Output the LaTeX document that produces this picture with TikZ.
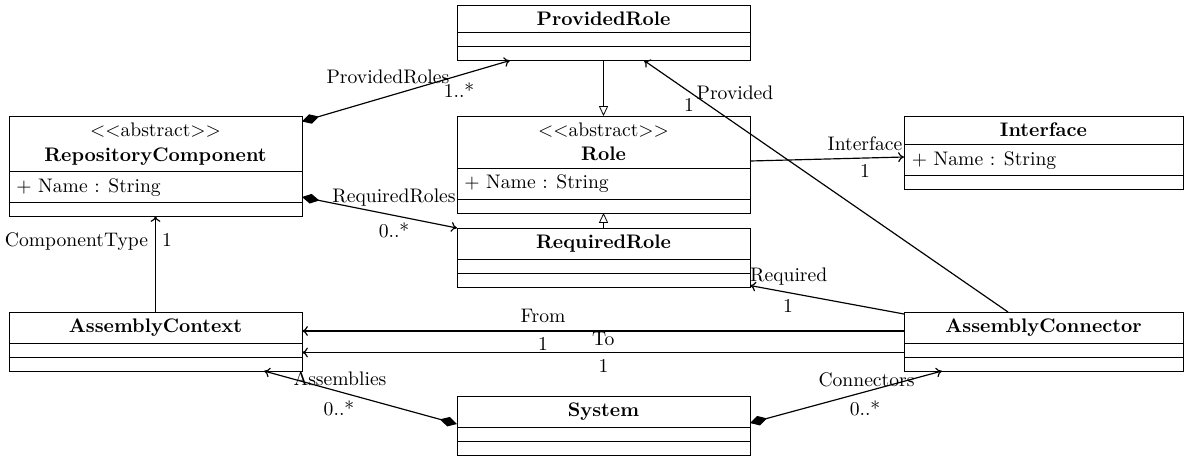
\documentclass[tikz,border=0pt]{standalone}
\usetikzlibrary{calc,arrows.meta}
\newcommand{\pxu}{0.51pt}
\tikzset{
  umlbox/.style={draw, thin, rectangle, inner sep=0pt, outer sep=0pt},
  txt/.style={inner sep=0pt, anchor=base},
  attr/.style={inner sep=0pt, anchor=base west},
  assoc/.style={semithick, -{To[length=3pt,width=5pt]}},
  compo/.style={semithick, {Diamond[length=9pt,width=5pt]}-{To[length=3pt,width=5pt]}},
  generalize/.style={thin, -{Triangle[open,length=5pt,width=4.6pt]}},
}
% class box: name, left x, top y, width, header height, attribute height
\newcommand{\classbox}[6]{%
  \node[umlbox, anchor=north west, minimum width=#4*\pxu, minimum height=(#5+#6+14)*\pxu] (#1) at (#2,#3) {};
  \draw[thin] ($(#1.north west)+(0,#5)$) -- ($(#1.north east)+(0,#5)$);
  \draw[thin] ($(#1.north west)+(0,#5+#6)$) -- ($(#1.north east)+(0,#5+#6)$);
}
\begin{document}
\begin{tikzpicture}[x=\pxu, y=-\pxu]
\useasboundingbox (0,0) rectangle (1192,457);

% classes
\classbox{PR}{457}{5}{293}{27}{14.5}
\node[txt] (PRt) at (603.5,25) {\textbf{ProvidedRole}};

\classbox{RC}{9}{116}{293}{55}{31}
\node[txt] (RCs) at (155.5,136.7) {$<<$abstract$>>$};
\node[txt] (RCt) at (155.5,161.7) {\textbf{RepositoryComponent}};
\node[attr] (RCa) at (16,192.7) {+ Name : String};

\classbox{Role}{457}{116}{293}{52}{31}
\node[txt] (Roles) at (603.5,136.7) {$<<$abstract$>>$};
\node[txt] (Rolet) at (603.5,160.7) {\textbf{Role}};
\node[attr] (Rolea) at (464,188.5) {+ Name : String};

\classbox{RQ}{457}{228}{293}{31}{14}
\node[txt] (RQt) at (603.5,248.3) {\textbf{RequiredRole}};

\classbox{IF}{904}{116}{279}{28}{31}
\node[txt] (IFt) at (1043.5,136) {\textbf{Interface}};
\node[attr] (IFa) at (911.5,165) {+ Name : String};

\classbox{ACtx}{9}{312}{293}{31}{14}
\node[txt] (ACtxt) at (155.5,332.3) {\textbf{AssemblyContext}};

\classbox{AC}{904}{312}{279}{31}{14}
\node[txt] (ACt) at (1043.5,332.3) {\textbf{AssemblyConnector}};

\classbox{Sys}{457}{396}{293}{31}{14}
\node[txt] (Syst) at (603.5,416.3) {\textbf{System}};

% generalizations
\draw[generalize] (PR.south) -- (Role.north);
\draw[generalize] (RQ.north) -- (Role.south);

% compositions
\draw[compo] ($(RC.north east)+(0,5.5)$) -- ($(PR.south west)+(53,0)$);
\draw[compo] ($(RC.north east)+(0,81)$) -- (RQ.north west);
\draw[compo] ($(Sys.north west)+(0,28)$) -- ($(ACtx.south west)+(255,0)$);
\draw[compo] ($(Sys.north east)+(0,27)$) -- ($(AC.south west)+(38,0)$);

% associations
\draw[assoc] ($(Role.north east)+(0,45)$) -- ($(IF.north west)+(0,41)$);
\draw[assoc] ($(AC.north west)+(104,0)$) -- ($(PR.south west)+(187,0)$);
\draw[assoc] ($(AC.north west)+(0,2)$) -- ($(RQ.south east)+(0,-1.5)$);
\draw[assoc] ($(AC.north west)+(0,19)$) -- ($(ACtx.north east)+(0,19)$);
\draw[assoc] ($(AC.north west)+(0,40.5)$) -- ($(ACtx.north east)+(0,40.5)$);
\draw[assoc] (ACtx.north) -- (RC.south);

% role names and multiplicities
\node[txt] (lPRs) at (388,83) {ProvidedRoles};
\node[txt] (mPRs) at (459,97) {1..*};
\node[txt] (lProv) at (735,99) {Provided};
\node[txt] (mProv) at (689,111.7) {1};
\node[txt] (lIF) at (865,150) {Interface};
\node[txt] (mIF) at (865,177) {1};
\node[txt] (lRQs) at (394,202.7) {RequiredRoles};
\node[txt] (mRQs) at (394,237) {0..*};
\node[txt] (lCT) at (76.5,246) {ComponentType};
\node[txt] (mCT) at (167,246) {1};
\node[txt] (lReq) at (788.7,281) {Required};
\node[txt] (mReq) at (788,312.3) {1};
\node[txt] (lFrom) at (543,322.7) {From};
\node[txt] (mFrom) at (543,350) {1};
\node[txt] (lTo) at (603.3,345.7) {To};
\node[txt] (mTo) at (603.5,372.7) {1};
\node[txt] (lAsm) at (340,385.7) {Assemblies};
\node[txt] (mAsm) at (339,415) {0..*};
\node[txt] (lCon) at (866.5,386) {Connectors};
\node[txt] (mCon) at (865,415) {0..*};
\end{tikzpicture}
\end{document}
